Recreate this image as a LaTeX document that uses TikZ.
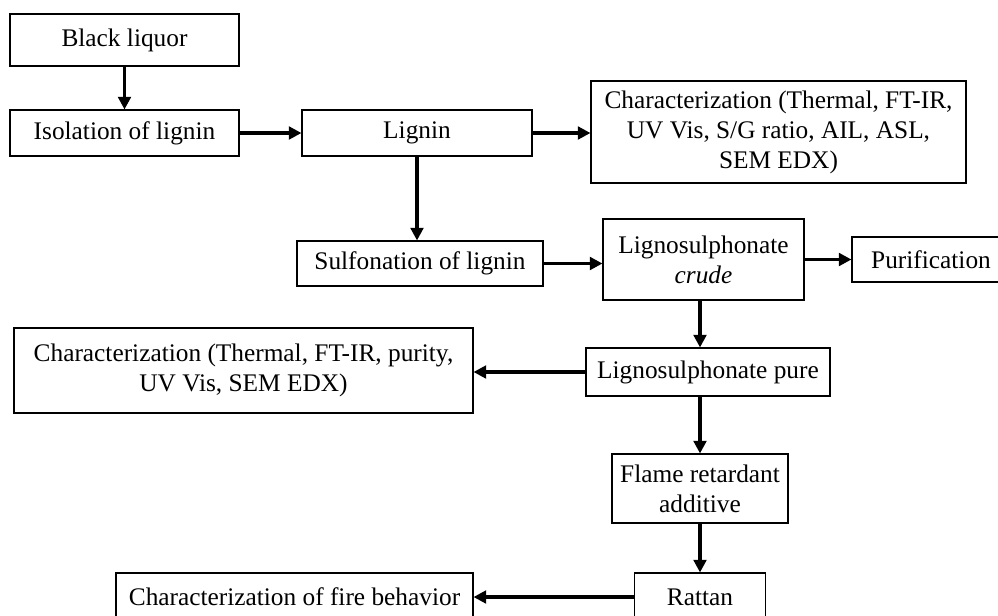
\documentclass[tikz,border=0pt]{standalone}
\usepackage{fontspec}
\setmainfont{Liberation Serif}
\usetikzlibrary{arrows.meta}

\tikzset{
  stepbox/.style={draw, line width=0.8pt, inner sep=0pt, align=center,
    font=\fontsize{19}{22.5}\selectfont},
  flowarrow/.style={line width=2.6pt, -{Triangle[length=9.5pt,width=9.5pt]}}
}

\begin{document}
\begin{tikzpicture}[x=0.75pt,y=0.75pt,yscale=-1,xscale=1]
			\useasboundingbox (0,0) rectangle (998,615);
			\clip (0,0) rectangle (998,615);
			
			%Shape: Box [id:black]
			\node [stepbox, minimum width=171.75pt, minimum height=39pt] (black) at (124.5,40) {Black liquor};
			%Shape: Box [id:isolation]
			\node [stepbox, minimum width=171.75pt, minimum height=34.5pt] (isolation) at (124.5,133) {Isolation of lignin};
			%Shape: Box [id:lignin]
			\node [stepbox, minimum width=172.5pt, minimum height=34.5pt] (lignin) at (417,133) {Lignin};
			%Shape: Box [id:charlignin]
			\node [stepbox, minimum width=281.25pt, minimum height=76.5pt] (charlignin) at (778.5,132) {Characterization (Thermal, FT-IR,\\UV Vis, S/G ratio, AIL, ASL,\\SEM EDX)};
			%Shape: Box [id:sulfonation]
			\node [stepbox, minimum width=184.5pt, minimum height=33.75pt] (sulfonation) at (420,263.5) {Sulfonation of lignin};
			%Shape: Box [id:crude]
			\node [stepbox, minimum width=150.75pt, minimum height=60.75pt] (crude) at (703.5,259.5) {Lignosulphonate\\\textit{crude}};
			%Shape: Box [id:purification]
			\node [stepbox, minimum width=118.5pt, minimum height=33.75pt] (purification) at (931,259.5) {Purification};
			%Shape: Box [id:charpure]
			\node [stepbox, minimum width=344.25pt, minimum height=63.75pt] (charpure) at (243.5,370.5) {Characterization (Thermal, FT-IR, purity,\\UV Vis, SEM EDX)};
			%Shape: Box [id:pure]
			\node [stepbox, minimum width=183pt, minimum height=36pt] (pure) at (708,372) {Lignosulphonate pure};
			%Shape: Box [id:flame]
			\node [stepbox, minimum width=132pt, minimum height=51.75pt] (flame) at (700,488.5) {Flame retardant\\additive};
			%Shape: Box [id:rattan]
			\node [stepbox, minimum width=98.25pt, minimum height=36pt] (rattan) at (700,597) {Rattan};
			%Shape: Box [id:fire]
			\node [stepbox, minimum width=267.75pt, minimum height=36pt] (fire) at (294.5,597) {Characterization of fire behavior};
			
			%Straight Lines [id:arrows]
			\draw [flowarrow] (black) -- (isolation);
			\draw [flowarrow] (isolation) -- (lignin);
			\draw [flowarrow] (lignin.east) -- (charlignin.west |- lignin.east);
			\draw [flowarrow] (lignin.south) -- (lignin.south |- sulfonation.north);
			\draw [flowarrow] (sulfonation.east) -- (crude.west |- sulfonation.east);
			\draw [flowarrow] (crude) -- (purification);
			\draw [flowarrow] (crude.south -| flame.north) -- (flame.north |- pure.north);
			\draw [flowarrow] (pure.west) -- (charpure.east |- pure.west);
			\draw [flowarrow] (pure.south -| flame.north) -- (flame.north);
			\draw [flowarrow] (flame) -- (rattan);
			\draw [flowarrow] (rattan) -- (fire);
			
		\end{tikzpicture}
\end{document}
